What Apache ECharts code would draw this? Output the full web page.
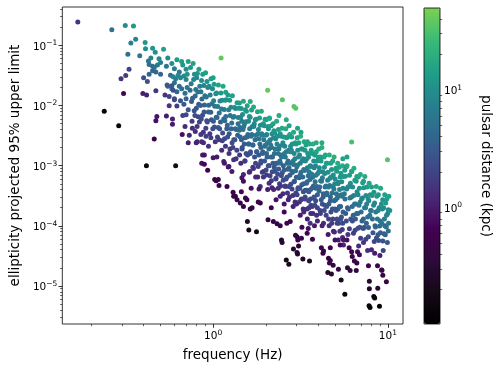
<!DOCTYPE html>
<html>
<head>
<meta charset="utf-8">
<script src="https://cdn.jsdelivr.net/npm/echarts@6/dist/echarts.min.js"></script>
<style>
  html, body { margin: 0; padding: 0; background: #fff; }
  #chart { width: 498px; height: 372px; }
</style>
</head>
<body>
<div id="chart"></div>
<script>
// each point: [frequency (Hz), ellipticity upper limit, pulsar distance (kpc)]
const pointsBelowHalfHz = [
  [0.168,0.245,1.5],[0.263,0.182,5],[0.314,0.215,10],[0.35,0.21,12],[0.36,0.126,8],[0.338,0.11,7],
  [0.408,0.112,12],[0.41,0.088,10],[0.45,0.09,12],[0.466,0.077,10],[0.325,0.071,5],[0.38,0.067,6],
  [0.426,0.055,6],[0.43,0.048,5],[0.45,0.045,4.5],[0.48,0.047,6],[0.46,0.043,5],[0.45,0.038,4],
  [0.43,0.033,4],[0.47,0.036,4],[0.5,0.033,4],[0.4,0.029,2.5],[0.42,0.025,2.5],[0.33,0.04,2],
  [0.316,0.0316,1.8],[0.297,0.028,1.5],[0.307,0.0159,0.7],[0.396,0.0159,1.0],[0.416,0.015,1.1],
  [0.47,0.0176,1.5],[0.476,0.0066,0.9],[0.47,0.0056,0.8],[0.238,0.008,0.12],[0.288,0.0046,0.13],
  [0.46,0.00277,0.5],[0.415,0.001,0.15],[0.5,0.052,7],[0.49,0.06,9],[0.44,0.062,8]
];

const pointsHalfTo1Hz = [
  [0.52,0.086,15],[0.55,0.062,10],[0.58,0.05,10],[0.6,0.041,7],[0.62,0.058,13],[0.64,0.036,6],
  [0.66,0.054,14],[0.67,0.047,12],[0.7,0.04,10],[0.72,0.054,15],[0.54,0.045,6],[0.57,0.032,5],
  [0.59,0.03,8],[0.61,0.028,7],[0.63,0.032,9],[0.65,0.029,8],[0.68,0.031,9],[0.7,0.027,9],
  [0.71,0.033,11],[0.55,0.021,4],[0.58,0.019,4],[0.6,0.024,5],[0.62,0.017,4],[0.64,0.021,5],
  [0.66,0.019,5],[0.69,0.016,5],[0.71,0.02,6],[0.53,0.015,1.6],[0.56,0.0099,1.5],[0.62,0.0098,1.8],
  [0.6,0.013,2.5],[0.65,0.012,2.8],[0.68,0.0105,3],[0.7,0.013,4],[0.54,0.0067,1.0],[0.585,0.006,1.1],
  [0.585,0.0049,1.0],[0.67,0.0068,2],[0.7,0.007,2.2],[0.72,0.0085,3],[0.665,0.0033,0.8],[0.61,0.001,0.2],
  [0.69,0.0045,1.3],[0.73,0.0032,1.2],[0.72,0.0024,1.0],[0.545,0.022,3],[0.58,0.0214,3],[0.59,0.018,2.5],
  [0.56,0.0142,2],[0.6,0.0125,2.2],
  [0.742,0.043,12],[0.768,0.05,15],[0.781,0.033,10],[0.812,0.034,11],[0.829,0.04,14],[0.858,0.026,9.5],
  [0.872,0.033,12.5],[0.905,0.035,15],[0.921,0.025,11],[0.948,0.021,9.5],[0.972,0.028,13.5],
  [0.748,0.023,6.3],[0.773,0.027,7.7],[0.795,0.0185,5.6],[0.805,0.029,9],[0.838,0.021,7],[0.851,0.017,6],
  [0.884,0.0215,8],[0.896,0.0146,5.6],[0.932,0.02,8.4],[0.961,0.015,6.7],[0.991,0.019,9],
  [0.738,0.018,4.7],[0.762,0.0132,3.6],[0.789,0.0144,4.3],[0.817,0.0168,5.4],[0.826,0.0105,3.4],
  [0.862,0.0128,4.5],[0.891,0.0102,3.9],[0.913,0.0139,5.6],[0.942,0.0101,4.3],[0.969,0.0077,3.4],
  [0.985,0.0107,5],[0.752,0.0117,3.3],[0.779,0.0082,2.5],[0.801,0.009,2.9],[0.821,0.0065,2.2],
  [0.846,0.01,3.6],[0.869,0.0069,2.7],[0.887,0.0078,3.1],[0.919,0.0056,2.4],[0.939,0.0078,3.5],
  [0.977,0.0058,2.8],[0.757,0.0055,1.7],[0.786,0.0068,2.3],[0.809,0.0045,1.6],[0.834,0.0053,2],
  [0.855,0.006,2.4],[0.878,0.0036,1.5],[0.908,0.0042,1.9],[0.926,0.0053,2.5],[0.957,0.0034,1.7],
  [0.995,0.0041,2.2],[0.76,0.0042,1.3],[0.79,0.0037,1.3],[0.81,0.0025,1.2],[0.8,0.0024,1.1],
  [0.86,0.0025,1.2],[0.88,0.0024,1.3],[0.94,0.0021,1.5],[0.85,0.0033,1.6],[0.91,0.0031,1.8],
  [0.97,0.0029,1.8],[0.89,0.0015,0.9],[0.87,0.0015,0.9],[0.86,0.0011,0.8],[0.89,0.00106,0.7],
  [0.93,0.00084,0.6]
];

const points1To2Hz = [
  [1.0,0.029,14],[1.11,0.062,40],[1.18,0.0166,15],[1.31,0.00126,1.5],
  [1.012,0.0226,14],[1.046,0.0162,11],[1.071,0.0219,15.5],[1.108,0.0162,12.5],[1.139,0.021,17],
  [1.172,0.0123,10.5],[1.214,0.015,13.5],[1.243,0.0123,12],[1.288,0.0145,15],[1.326,0.0093,10],
  [1.371,0.0111,13],[1.006,0.012,7.2],[1.035,0.0157,10],[1.062,0.0096,6.4],[1.094,0.0119,8.4],
  [1.123,0.0123,9.2],[1.158,0.0086,6.8],[1.186,0.0125,10.4],[1.227,0.0085,7.6],[1.263,0.0094,8.8],
  [1.301,0.0064,6.4],[1.344,0.0089,9.6],[1.392,0.0063,7.2],[1.021,0.0097,5.7],[1.052,0.0063,4],
  [1.083,0.0075,5],[1.117,0.0088,6.3],[1.149,0.006,4.5],[1.181,0.0066,5.3],[1.205,0.0047,3.9],
  [1.251,0.0068,6],[1.277,0.0051,4.8],[1.318,0.0066,6.5],[1.357,0.004,4.3],[1.389,0.005,5.5],
  [1.003,0.0055,3.1],[1.041,0.0064,4],[1.068,0.0043,2.8],[1.101,0.0053,3.6],[1.133,0.0035,2.6],
  [1.166,0.0056,4.3],[1.196,0.0041,3.3],[1.235,0.0034,3],[1.269,0.0041,3.8],[1.312,0.0027,2.6],
  [1.338,0.0041,4.1],[1.381,0.0032,3.5],[1.016,0.0044,2.6],[1.058,0.003,2],[1.089,0.0041,2.9],
  [1.128,0.0026,1.9],[1.162,0.0028,2.2],[1.209,0.003,2.5],[1.248,0.0019,1.7],[1.283,0.0024,2.3],
  [1.331,0.0027,2.8],[1.366,0.0018,2],[1.028,0.0025,1.5],[1.079,0.0027,1.8],[1.119,0.0018,1.3],
  [1.176,0.0021,1.65],[1.232,0.0016,1.5],[1.296,0.002,1.9],[1.352,0.0013,1.5],
  [1.02,0.00059,0.5],[1.04,0.00056,0.5],[1.07,0.00059,0.5],[1.08,0.00047,0.6],[1.2,0.00045,0.6],
  [1.3,0.00036,0.6],[1.34,0.00031,0.6],[1.31,0.00031,0.45],[1.37,0.00027,0.45],[1.16,0.0011,0.9],
  [1.22,0.00095,0.9],[1.28,0.0008,1.0],[1.0,0.00135,0.9],[1.05,0.0014,1.0],[1.15,0.00117,1.0],
  [1.23,0.00097,0.9],
  [1.63,0.0117,18],[1.412,0.011,14],[1.447,0.0089,12],[1.489,0.0118,17],[1.528,0.0085,12.6],
  [1.567,0.0099,15.4],[1.611,0.0066,11],[1.658,0.0084,14.7],[1.702,0.0095,17.5],[1.741,0.0058,11.2],
  [1.793,0.0079,16],[1.842,0.0062,13.3],[1.887,0.008,18],[1.936,0.005,12],[1.981,0.0059,14.7],
  [1.403,0.009,10.8],[1.436,0.0064,8.1],[1.472,0.0071,9.5],[1.513,0.005,7],[1.549,0.008,11.7],
  [1.594,0.0055,8.6],[1.627,0.0064,10.4],[1.673,0.0045,7.7],[1.719,0.005,9],[1.762,0.0059,11.3],
  [1.816,0.004,8.1],[1.862,0.0047,9.9],[1.908,0.0032,7.2],[1.962,0.0046,10.8],[1.421,0.0043,5.1],
  [1.458,0.0055,6.9],[1.497,0.0045,6],[1.536,0.0054,7.5],[1.579,0.0033,4.8],[1.618,0.0041,6.3],
  [1.664,0.0033,5.4],[1.708,0.0045,7.8],[1.756,0.0032,5.7],[1.804,0.0034,6.6],[1.851,0.0023,4.7],
  [1.897,0.0034,7.2],[1.948,0.0027,6],[1.993,0.0022,5.1],[1.409,0.0039,4.6],[1.452,0.0027,3.4],
  [1.481,0.004,5.3],[1.521,0.0029,4],[1.561,0.003,4.4],[1.603,0.0023,3.6],[1.649,0.0031,5],
  [1.691,0.0022,3.8],[1.737,0.0027,4.8],[1.778,0.0017,3.3],[1.829,0.0028,5.5],[1.874,0.002,4.2],
  [1.921,0.0017,3.8],[1.972,0.0021,4.8],[1.428,0.003,3.7],[1.466,0.002,2.7],[1.505,0.0023,3.2],
  [1.544,0.0016,2.4],[1.588,0.0023,3.6],[1.635,0.0017,2.9],[1.681,0.0022,3.9],[1.726,0.0014,2.6],
  [1.771,0.0017,3.3],[1.823,0.0015,3],[1.868,0.0011,2.3],[1.915,0.0016,3.6],[1.967,0.0012,2.9],
  [1.416,0.0015,1.8],[1.463,0.0019,2.4],[1.518,0.0012,1.7],[1.574,0.0015,2.2],[1.629,0.0016,2.6],
  [1.687,0.00094,1.6],[1.748,0.0011,2.1],[1.809,0.00097,1.9],[1.877,0.0012,2.5],[1.942,0.0008,1.8],
  [1.44,0.0011,1.3],[1.52,0.0012,1.7],[1.61,0.00078,1.2],[1.7,0.0009,1.5],[1.8,0.00065,1.3],
  [1.91,0.00078,1.7],[1.49,0.00071,1.2],[1.62,0.0008,1.3],[1.75,0.00065,1.2],[1.86,0.00045,1.3],
  [1.45,0.00037,0.7],[1.53,0.00029,0.6],[1.65,0.00042,0.8],[1.83,0.00041,0.9],[1.43,0.00024,0.45],
  [1.49,0.00021,0.45],[1.56,0.00027,0.5],[1.63,0.00019,0.4],[1.67,0.0002,0.45],[1.81,0.00025,0.5],
  [1.86,0.00024,0.5],[1.57,0.000118,0.25],[1.6,0.000085,0.2],[1.77,0.00008,0.2],[1.46,0.00063,0.9],
  [1.49,0.00055,0.8],[1.94,0.00065,1.5]
];

const points2To4Hz = [
  [2.05,0.018,40],[2.49,0.0125,35],[2.1,0.0062,15],[2.38,0.0068,18],[2.62,0.0058,18],[2.72,0.0046,15],
  [2.012,0.0058,14.5],[2.061,0.0045,11.9],[2.094,0.0061,16.8],[2.148,0.0046,13.3],[2.205,0.005,15.4],
  [2.252,0.0035,11.2],[2.307,0.0055,18],[2.364,0.004,14],[2.418,0.0034,12.6],[2.476,0.0042,16],
  [2.541,0.003,12],[2.604,0.0041,17.5],[2.668,0.003,13.3],[2.741,0.0033,15.4],
  [2.027,0.0033,8.5],[2.072,0.0041,11],[2.121,0.0027,7.6],[2.171,0.0034,10],[2.226,0.0038,11.9],
  [2.279,0.0028,9],[2.331,0.0031,10.5],[2.389,0.0021,7.4],[2.447,0.0031,11.4],[2.506,0.0024,9.5],
  [2.569,0.0021,8.6],[2.633,0.0029,12.4],[2.701,0.0018,8.1],[2.772,0.0021,10],
  [2.004,0.0032,7.8],[2.048,0.0024,6.2],[2.107,0.0026,6.8],[2.159,0.002,5.5],[2.213,0.0029,8.5],
  [2.264,0.0019,5.9],[2.319,0.0023,7.5],[2.377,0.0019,6.5],[2.432,0.0015,5.2],[2.493,0.0022,8.1],
  [2.552,0.0016,6.2],[2.619,0.0017,7.2],[2.684,0.0012,5.1],[2.757,0.0017,7.8],
  [2.019,0.0016,3.9],[2.083,0.0019,5.1],[2.134,0.0022,6],[2.186,0.0014,4.1],[2.241,0.0016,4.8],
  [2.293,0.0011,3.6],[2.352,0.0016,5.5],[2.406,0.0012,4.4],[2.463,0.0014,5.3],[2.522,0.001,3.9],
  [2.587,0.0014,5.8],[2.651,0.0011,4.6],[2.718,0.00092,4.1],[2.789,0.0011,5.1],
  [2.036,0.0014,3.5],[2.089,0.001,2.7],[2.142,0.0014,4],[2.197,0.0011,3.2],[2.258,0.00081,2.6],
  [2.312,0.0011,3.7],[2.371,0.00088,3],[2.427,0.0011,4.2],[2.486,0.00076,2.9],[2.547,0.00085,3.4],
  [2.612,0.0006,2.5],[2.679,0.00087,3.8],[2.746,0.00069,3.2],
  [2.008,0.00085,2.1],[2.067,0.001,2.6],[2.117,0.00068,1.9],[2.178,0.00079,2.3],[2.236,0.00094,2.9],
  [2.287,0.00062,2],[2.341,0.00072,2.4],[2.398,0.0005,1.8],[2.457,0.00068,2.5],[2.517,0.00057,2.2],
  [2.581,0.00046,1.9],[2.643,0.00064,2.8],[2.709,0.00045,2],[2.781,0.00049,2.3],
  [2.023,0.0007,1.7],[2.091,0.00051,1.35],[2.152,0.00056,1.6],[2.219,0.0004,1.2],[2.284,0.0006,1.9],
  [2.357,0.00042,1.4],[2.433,0.00046,1.65],[2.508,0.00034,1.3],[2.587,0.00045,1.8],[2.661,0.00035,1.5],
  [2.735,0.0003,1.35],[2.05,0.0004,1.0],[2.17,0.00043,1.2],[2.29,0.00027,0.85],[2.42,0.00031,1.1],
  [2.55,0.00023,0.9],[2.69,0.00027,1.15],
  [2.06,0.000126,0.45],[2.21,0.000118,0.45],[2.32,0.000108,0.45],[2.42,0.0001,0.45],[2.64,0.00011,0.5],
  [2.76,0.000118,0.5],[2.46,0.000058,0.3],[2.48,0.000053,0.3],[2.62,0.000027,0.2],[2.71,0.000023,0.2],
  [2.15,0.0002,0.6],[2.55,0.00017,0.7],
  [2.9,0.0096,35],[2.97,0.009,35],[3.04,0.0042,15],[3.18,0.0036,15],[3.46,0.0025,15],[3.89,0.0024,18],
  [2.813,0.003,14],[2.884,0.0036,17],[2.952,0.0024,12.7],[3.028,0.0029,15.7],[3.091,0.0024,13.5],
  [3.163,0.0031,18.5],[3.244,0.0019,12],[3.317,0.0025,16.5],[3.398,0.0022,15],[3.478,0.0016,11.7],
  [3.562,0.0023,17],[3.641,0.0018,14],[3.728,0.0023,19],[3.809,0.0015,12.7],[3.893,0.0017,15.7],
  [3.981,0.0014,13.5],
  [2.832,0.0023,11],[2.905,0.0016,8],[2.981,0.0023,12.5],[3.046,0.0018,10],[3.122,0.0015,9],
  [3.197,0.0019,11.5],[3.271,0.0013,8.5],[3.352,0.0018,12],[3.436,0.0013,9.5],[3.512,0.0014,10.5],
  [3.598,0.001,7.8],[3.683,0.0016,13],[3.761,0.0012,10],[3.852,0.001,9],[3.944,0.0012,11.5],
  [2.804,0.0018,9.1],[2.869,0.0012,6.3],[2.937,0.0013,7.4],[3.012,0.00096,5.6],[3.079,0.0014,8.4],
  [3.148,0.0011,6.7],[3.226,0.0012,7.7],[3.297,0.00086,6],[3.373,0.0012,8.8],[3.457,0.00092,7],
  [3.537,0.00079,6.3],[3.621,0.00097,8],[3.704,0.00064,5.6],[3.786,0.00092,8.4],[3.874,0.00069,6.7],
  [3.963,0.00074,7.4],
  [2.822,0.00081,4.1],[2.891,0.00105,5.5],[2.964,0.00082,4.6],[3.037,0.00103,6],[3.104,0.00063,3.8],
  [3.181,0.00078,5],[3.256,0.00065,4.3],[3.334,0.00083,5.8],[3.417,0.00051,3.7],[3.499,0.00068,5.3],
  [3.579,0.00059,4.8],[3.662,0.00073,6.2],[3.748,0.00046,4.1],[3.833,0.00054,5],[3.921,0.00045,4.3],
  [2.841,0.00077,4],[2.918,0.00055,3],[2.992,0.00064,3.6],[3.063,0.00043,2.6],[3.139,0.00069,4.3],
  [3.214,0.00048,3.1],[3.289,0.0005,3.5],[3.366,0.00039,2.8],[3.448,0.00054,4.1],[3.526,0.00037,3],
  [3.611,0.0004,3.3],[3.694,0.00043,3.8],[3.779,0.00029,2.6],[3.862,0.00042,4],[3.951,0.00033,3.3],
  [2.826,0.00041,2.1],[2.899,0.00054,2.9],[2.973,0.00035,2],[3.054,0.00041,2.4],[3.131,0.00042,2.6],
  [3.207,0.00028,1.8],[3.281,0.00037,2.5],[3.359,0.0003,2.2],[3.441,0.00039,3],[3.521,0.00026,2.1],
  [3.604,0.00028,2.3],[3.688,0.00021,1.8],[3.773,0.0003,2.8],[3.858,0.00026,2.4],[3.947,0.0002,2],
  [2.858,0.00032,1.7],[2.942,0.00025,1.35],[3.021,0.00033,1.9],[3.113,0.00025,1.5],[3.188,0.00027,1.75],
  [3.274,0.00019,1.3],[3.361,0.00028,2],[3.447,0.00019,1.45],[3.539,0.0002,1.6],[3.628,0.00022,1.85],
  [3.719,0.00016,1.35],[3.815,0.00022,2.1],[3.908,0.00015,1.45],
  [2.87,0.00021,1.05],[3.0,0.00023,1.3],[3.15,0.00015,0.95],[3.3,0.00017,1.2],[3.46,0.00013,1.0],
  [3.62,0.00016,1.3],[3.8,0.0001,0.95],[3.95,0.00012,1.2],
  [3.59,0.00011,1.5],[3.02,0.000066,0.35],[3.08,0.000046,0.3],[3.02,0.000036,0.3],[2.88,0.000041,0.3],
  [3.04,0.000034,0.3],[3.26,0.000028,0.25],[3.56,0.000026,0.25],[2.96,0.00007,0.5],[3.05,0.000058,0.55],
  [3.2,0.000062,0.55],[3.45,0.000075,0.65],[3.7,0.00006,0.6],[3.22,0.000095,0.7],[3.5,0.00009,0.8]
];

const points4To6Hz = [
  [4.19,0.0024,18],[5.52,0.0013,15],[5.83,0.0014,15],
  [4.02,0.0019,17.5],[4.11,0.0014,13.5],[4.19,0.002,20],[4.31,0.0014,15],[4.38,0.0015,16.8],
  [4.49,0.0011,12.8],[4.62,0.0015,19],[4.71,0.0011,14.4],[4.83,0.0012,16],[4.92,0.0014,20],
  [5.04,0.00091,13.6],[5.16,0.0011,17.6],[5.27,0.00094,15],[5.38,0.00075,12.8],[5.49,0.001,18.4],
  [4.05,0.00092,9.4],[4.14,0.0012,12.6],[4.24,0.00079,8.9],[4.33,0.00094,11],[4.44,0.0011,13.6],
  [4.54,0.00078,10],[4.66,0.00062,8.4],[4.76,0.00086,12],[4.87,0.0007,10.5],[4.99,0.0006,9.4],
  [5.09,0.00081,13],[5.21,0.00053,8.9],[5.33,0.00065,11.5],[5.44,0.00054,10],[5.56,0.00066,12.6],
  [4.03,0.00079,8],[4.12,0.00056,6],[4.22,0.00063,7],[4.35,0.00074,8.7],[4.42,0.00046,5.6],
  [4.52,0.00057,7.3],[4.64,0.00047,6.3],[4.74,0.00065,9.1],[4.85,0.00045,6.7],[4.96,0.0005,7.7],
  [5.07,0.00034,5.5],[5.18,0.0005,8.4],[5.29,0.0004,7],[5.41,0.00033,6],[5.53,0.00042,8],
  [4.07,0.00044,4.6],[4.17,0.00055,6],[4.27,0.00034,3.8],[4.37,0.00044,5.3],[4.47,0.00035,4.3],
  [4.57,0.00044,5.8],[4.69,0.0003,4.1],[4.79,0.00035,5],[4.91,0.00041,6.2],[5.02,0.00027,4.3],
  [5.13,0.00029,4.8],[5.24,0.00032,5.5],[5.36,0.00021,3.7],[5.47,0.00031,5.8],
  [4.04,0.00038,4],[4.15,0.00027,3],[4.26,0.0003,3.5],[4.36,0.00022,2.6],[4.48,0.00033,4.3],
  [4.59,0.00023,3.1],[4.68,0.00026,3.6],[4.81,0.00019,2.8],[4.93,0.00026,4.1],[5.05,0.00018,3],
  [5.17,0.00019,3.3],[5.28,0.00021,3.8],[5.42,0.00014,2.6],[5.54,0.00017,3.5],
  [4.09,0.00018,2],[4.21,0.00023,2.6],[4.32,0.00018,2.2],[4.46,0.00021,2.8],[4.58,0.00013,1.8],
  [4.72,0.00017,2.4],[4.84,0.00013,2.1],[4.97,0.00019,3],[5.11,0.00013,2.3],[5.23,0.00011,2],
  [5.37,0.00013,2.5],[5.51,0.00011,2.2],
  [4.11,0.00016,1.75],[4.28,0.00011,1.35],[4.43,0.00015,1.9],[4.61,0.0001,1.45],[4.77,0.00011,1.7],
  [4.94,0.000079,1.3],[5.12,0.00011,2],[5.31,0.000081,1.5],[5.48,0.000087,1.75],
  [4.2,0.0001,1.1],[4.55,0.000072,0.95],[4.88,0.000081,1.2],[5.2,0.000058,1.0],[5.5,0.000064,1.2],
  [5.57,0.000048,1.2],[4.16,0.000043,0.5],[4.28,0.000038,0.5],[4.25,0.000035,0.45],[4.68,0.000043,0.65],
  [5.33,0.000048,0.75],[4.98,0.000058,0.8],[5.57,0.000058,0.9],[4.57,0.000029,0.5],[4.68,0.0000265,0.5],
  [4.63,0.000024,0.45],[4.86,0.000022,0.45],[5.21,0.000019,0.45],[4.53,0.0000167,0.3],
  [4.75,0.0000158,0.3],[5.4,0.0000126,0.2]
];

const pointsAbove6Hz = [
  [6.2,0.00247,30],[5.77,0.00095,12],[6.2,0.0008,13],[6.64,0.00066,14],[7.25,0.00055,14],
  [5.66,0.00084,13.5],[5.84,0.001,17],[6.03,0.00069,12.8],[6.21,0.00081,15.8],[6.39,0.00091,18.8],
  [6.58,0.00055,12],[6.77,0.00065,15],[6.96,0.00071,17],[7.17,0.00052,13.5],[7.38,0.00066,18],
  [7.59,0.00044,12.8],[7.81,0.00051,15.8],
  [5.71,0.00067,12],[5.9,0.00044,8.5],[6.1,0.00051,10.5],[6.28,0.00044,9.5],[6.47,0.00057,13],
  [6.66,0.00037,9],[6.87,0.00042,11],[7.07,0.00028,7.8],[7.27,0.00043,12.5],[7.48,0.00032,10],
  [7.7,0.00028,9],[7.92,0.00033,11.5],
  [5.63,0.00034,6],[5.81,0.00041,7.7],[6.0,0.00045,9.1],[6.19,0.0003,6.3],[6.37,0.00032,7.4],
  [6.55,0.00023,5.6],[6.74,0.00033,8.4],[6.94,0.00025,6.7],[7.14,0.00029,8],[7.35,0.0002,6],
  [7.56,0.00023,7.4],[7.77,0.00026,8.8],[7.96,0.00018,6.3],
  [5.68,0.00028,5],[5.87,0.0002,3.8],[6.06,0.00029,6],[6.25,0.00021,4.6],[6.44,0.00023,5.3],
  [6.63,0.00016,4.1],[6.83,0.00022,5.8],[7.03,0.00017,4.8],[7.24,0.00013,3.7],[7.45,0.0002,6.2],
  [7.66,0.00014,4.6],[7.87,0.00015,5.3],
  [5.73,0.00016,3.1],[5.93,0.00019,4],[6.13,0.00013,2.8],[6.33,0.00015,3.6],[6.52,0.00013,3.3],
  [6.72,0.00016,4.3],[6.91,0.000095,2.6],[7.11,0.00012,3.5],[7.32,0.000095,3],[7.53,0.00011,3.8],
  [7.74,0.000094,3.3],
  [5.78,0.00012,2.4],[6.02,0.000089,1.9],[6.26,0.00012,2.6],[6.49,0.000084,2.1],[6.74,0.000091,2.4],
  [6.98,0.000062,1.8],[7.22,0.00009,2.7],[7.47,0.00006,2],[7.73,0.000066,2.3],
  [5.9,0.000072,1.5],[6.35,0.000075,1.8],[6.8,0.000046,1.3],[7.25,0.000053,1.65],[7.65,0.000039,1.35],
  [5.83,0.000058,0.8],[6.0,0.000043,0.65],[6.2,0.000037,0.65],[6.7,0.000037,0.7],[6.87,0.000033,0.7],
  [6.25,0.000031,0.5],[6.43,0.000026,0.5],[6.64,0.000024,0.5],[5.87,0.00002,0.4],[6.08,0.000018,0.4],
  [6.59,0.000018,0.4],[7.74,0.0000216,0.55],[5.67,0.0000073,0.15],[7.83,0.000012,0.3],
  [7.83,0.000009,0.25],[7.8,0.0000047,0.13],[7.9,0.0000044,0.13],
  [9.95,0.00125,35],[10.05,0.000185,8],[9.6,0.0001,4],[8.6,0.000063,2.5],
  [8.06,0.00044,14],[8.31,0.00036,12],[8.58,0.00045,16],[8.82,0.00033,12.6],[9.08,0.00042,16.8],
  [9.33,0.00027,11.2],[9.59,0.00033,14.7],[9.86,0.00028,13.3],[10.12,0.00031,15.4],
  [8.12,0.00032,11.5],[8.39,0.00024,9],[8.64,0.00031,12.5],[8.91,0.0002,8.5],[9.17,0.00023,10.5],
  [9.45,0.0002,9.5],[9.72,0.00024,12],[9.98,0.00016,8.5],[10.25,0.00018,10],
  [8.03,0.00018,6.3],[8.28,0.00022,8.4],[8.52,0.00017,6.7],[8.79,0.00018,7.7],[9.04,0.00012,5.6],
  [9.29,0.00019,9.1],[9.55,0.00013,6.7],[9.82,0.00015,7.7],[10.08,0.00011,6.3],
  [8.15,0.00013,4.9],[8.44,0.0001,4],[8.71,0.00013,5.6],[8.97,0.000099,4.5],[9.23,0.00011,5.4],
  [9.51,0.000074,3.8],[9.79,0.000096,5.2],[10.05,0.000082,4.7],
  [8.21,0.000077,2.9],[8.49,0.000096,3.8],[8.77,0.000071,3],[9.06,0.000077,3.5],[9.36,0.000056,2.7],
  [9.66,0.000071,3.7],[9.93,0.000053,2.9],[8.35,0.000055,2.1],[8.85,0.000057,2.5],[9.4,0.000039,2],
  [8.72,0.0000216,0.6],[9.25,0.0000183,0.6],[9.8,0.0000117,0.5],[9.35,0.000015,0.5],
  [9.2,0.0000185,0.5],[8.75,0.0000092,0.3],[8.3,0.0000067,0.15],[8.4,0.0000063,0.15],
  [8.95,0.0000046,0.13],[8.4,0.000035,1.0],[9.0,0.000032,1.1],[8.05,0.00004,1.2]
];

// axis ranges and tick labels
const freqRange = [0.137, 12.2];
const ellipRange = [2.33e-6, 0.435];
const distRange = [0.102, 49.5];
const freqMajorTicks = [1, 10];
const ellipMajorTicks = [1e-5, 1e-4, 1e-3, 1e-2, 1e-1];
const distMajorTicks = [1, 10];

// black -> purple -> teal -> green, as in the colour bar
const colourStops = ['#000000', '#150818', '#2c0a3a', '#430152', '#482878', '#3e4a89',
  '#31688e', '#26828e', '#1fa088', '#3bbb75', '#7ad151'];

function minorTicks(range) {
  const out = [];
  for (let e = -7; e <= 2; e++) {
    for (let m = 2; m <= 9; m++) {
      const v = m * Math.pow(10, e);
      if (v > range[0] && v < range[1]) out.push(v);
    }
  }
  return out;
}

function powLabel(v) {
  const p = Math.round(Math.log10(v));
  return '{b|10}{s|' + String(p).replace('-', '\u2212') + '}';
}

const labelRich = {
  b: { fontSize: 10.5, color: '#000', fontFamily: 'DejaVu Sans', verticalAlign: 'bottom', lineHeight: 14 },
  s: { fontSize: 7.5, color: '#000', fontFamily: 'DejaVu Sans', verticalAlign: 'bottom', lineHeight: 14, padding: [0, 0, 5, 0] }
};

const allPoints = [].concat(pointsBelowHalfHz, pointsHalfTo1Hz, points1To2Hz,
  points2To4Hz, points4To6Hz, pointsAbove6Hz);
const scatterData = allPoints.map((p) => [p[0], p[1], p[2], Math.log10(p[2])]);

const chart = echarts.init(document.getElementById('chart'), null, { renderer: 'canvas' });

const majorTick = { show: true, length: 3.8, lineStyle: { color: '#000', width: 0.8 } };
const minorTick = { show: true, length: 2.2, lineStyle: { color: '#000', width: 0.6 } };

const option = {
  animation: false,
  backgroundColor: '#fff',
  textStyle: { fontFamily: 'DejaVu Sans' },
  grid: [
    { left: 62, top: 7, width: 341, height: 317, show: true, borderColor: '#000', borderWidth: 0.8, backgroundColor: 'transparent' },
    { left: 424, top: 8, width: 16, height: 316, show: true, borderColor: '#000', borderWidth: 0.8, backgroundColor: 'transparent', z: 5 }
  ],
  xAxis: [
    {
      gridIndex: 0, type: 'log', min: freqRange[0], max: freqRange[1],
      axisLine: { show: false },
      axisTick: Object.assign({ customValues: freqMajorTicks }, majorTick),
      axisLabel: { customValues: freqMajorTicks, formatter: powLabel, rich: labelRich, margin: 4 },
      splitLine: { show: false },
      name: 'frequency (Hz)', nameLocation: 'middle', nameGap: 24,
      nameTextStyle: { fontSize: 13.5, color: '#000' }
    },
    {
      gridIndex: 0, type: 'log', min: freqRange[0], max: freqRange[1], position: 'bottom',
      axisLine: { show: false },
      axisTick: Object.assign({ customValues: minorTicks(freqRange) }, minorTick),
      axisLabel: { show: false }, splitLine: { show: false }
    },
    { gridIndex: 1, type: 'value', min: 0, max: 1, show: false }
  ],
  yAxis: [
    {
      gridIndex: 0, type: 'log', min: ellipRange[0], max: ellipRange[1],
      axisLine: { show: false },
      axisTick: Object.assign({ customValues: ellipMajorTicks }, majorTick),
      axisLabel: { customValues: ellipMajorTicks, formatter: powLabel, rich: labelRich, margin: 5 },
      splitLine: { show: false },
      name: 'ellipticity projected 95% upper limit', nameLocation: 'middle', nameGap: 40,
      nameTextStyle: { fontSize: 13.5, color: '#000' }
    },
    {
      gridIndex: 0, type: 'log', min: ellipRange[0], max: ellipRange[1], position: 'left',
      axisLine: { show: false },
      axisTick: Object.assign({ customValues: minorTicks(ellipRange) }, minorTick),
      axisLabel: { show: false }, splitLine: { show: false }
    },
    {
      gridIndex: 1, type: 'log', min: distRange[0], max: distRange[1], position: 'right',
      axisLine: { show: false },
      axisTick: Object.assign({ customValues: distMajorTicks }, majorTick),
      axisLabel: { customValues: distMajorTicks, formatter: powLabel, rich: labelRich, margin: 4 },
      splitLine: { show: false },
      name: 'pulsar distance (kpc)', nameLocation: 'middle', nameGap: 38, nameRotate: -90,
      nameTextStyle: { fontSize: 13.5, color: '#000' }
    },
    {
      gridIndex: 1, type: 'log', min: distRange[0], max: distRange[1], position: 'right',
      axisLine: { show: false },
      axisTick: Object.assign({ customValues: minorTicks(distRange) }, minorTick),
      axisLabel: { show: false }, splitLine: { show: false }
    }
  ],
  visualMap: {
    type: 'continuous',
    seriesIndex: 0,
    dimension: 3,
    min: Math.log10(distRange[0]),
    max: Math.log10(distRange[1]),
    inRange: { color: colourStops },
    left: 424, top: 8, itemWidth: 16, itemHeight: 316, padding: 0,
    calculable: false, hoverLink: false, z: 1
  },
  series: [
    {
      type: 'scatter',
      xAxisIndex: 0,
      yAxisIndex: 0,
      data: scatterData,
      symbol: 'circle',
      symbolSize: 5,
      itemStyle: { opacity: 1 },
      silent: true
    }
  ]
};

chart.setOption(option);
</script>
</body>
</html>
